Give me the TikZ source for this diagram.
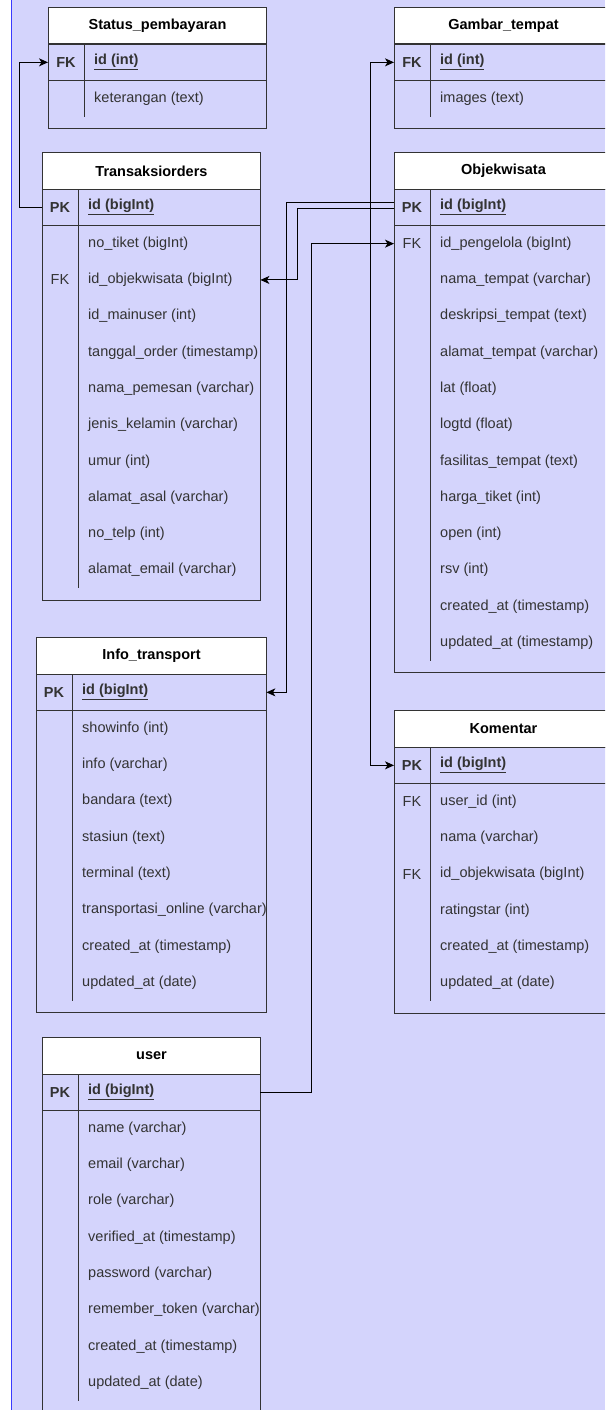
\documentclass[tikz,border=0pt]{standalone}
\usepackage{fontspec}
\setmainfont{Liberation Sans}
\usetikzlibrary{arrows.meta}

\definecolor{pagebg}{HTML}{D4D4FC}
\definecolor{pageedge}{HTML}{3A3AFF}
\definecolor{ink}{HTML}{333333}
\definecolor{rule}{HTML}{333333}

\tikzset{
  tblhead/.style={draw=rule, line width=1pt, fill=white, minimum height=37pt,
    inner sep=0pt, anchor=north west, text=black,
    font=\bfseries\fontsize{14.5}{17}\selectfont},
  tblrow/.style={minimum height=36.3pt, inner sep=0pt, anchor=north west},
  keytext/.style={inner sep=0pt, text=ink, font=\fontsize{14.5}{17}\selectfont},
  fieldtext/.style={anchor=west, inner sep=0pt, text=ink,
    font=\fontsize{14.5}{17}\selectfont},
  tblline/.style={draw=rule, line width=1pt},
  fkarrow/.style={line width=1pt, draw=black,
    -{Stealth[length=9pt,width=8pt,inset=2.5pt]}},
  fkboth/.style={line width=1pt, draw=black,
    {Stealth[length=9pt,width=8pt,inset=2.5pt]}-{Stealth[length=9pt,width=8pt,inset=2.5pt]}},
}

% \ertable{name}{left}{top}{width}{title}{number of rows}{key/field list}
\newcommand{\ertable}[7]{%
  \begin{scope}[shift={(#2,#3)}]
    \fill[pagebg] (0,37) rectangle (#4,37+36.3*#6+12);
    \node[tblhead, minimum width=#4pt] (#1) at (0,0) {#5};
    \foreach \k/\f [count=\i from 0] in {#7} {
      \node[tblrow, minimum width=#4pt] (#1-\i) at (0,37+36.3*\i) {};
      \node[keytext] at (18,37+36.3*\i+18.15) {\k};
      \node[fieldtext] at (46,37+36.3*\i+18.15) {\f};
    }
    \draw[tblline] (0,37) rectangle (#4,37+36.3*#6+12);
    \draw[tblline] (0,73.3) -- (#4,73.3);
    \draw[tblline] (36,37) -- (36,37+36.3*#6);
  \end{scope}}

\newcommand{\pkey}[1]{\textbf{\underline{#1}}}

\begin{document}
\begin{tikzpicture}[x=1pt,y=-1pt]
  \useasboundingbox (0,0) rectangle (605,1410);
  \clip (0,0) rectangle (605,1410);
  \fill[white] (0,0) rectangle (11,1410);
  \fill[pagebg] (11,0) rectangle (605,1410);
  \draw[pageedge, line width=1pt] (11,0) -- (11,1410);

  \ertable{status}{48}{7}{218}{Status\_pembayaran}{2}{%
    \textbf{FK}/\pkey{id (int)},
    {}/keterangan (text)}

  \ertable{gambar}{394}{7}{218}{Gambar\_tempat}{2}{%
    \textbf{FK}/\pkey{id (int)},
    {}/images (text)}

  \ertable{trans}{42}{152}{218}{Transaksiorders}{11}{%
    \textbf{PK}/\pkey{id (bigInt)},
    {}/no\_tiket (bigInt),
    FK/id\_objekwisata (bigInt),
    {}/id\_mainuser (int),
    {}/tanggal\_order (timestamp),
    {}/nama\_pemesan (varchar),
    {}/jenis\_kelamin (varchar),
    {}/umur (int),
    {}/alamat\_asal (varchar),
    {}/no\_telp (int),
    {}/alamat\_email (varchar)}

  \ertable{obj}{394}{152}{218}{Objekwisata}{13}{%
    \textbf{PK}/\pkey{id (bigInt)},
    FK/id\_pengelola (bigInt),
    {}/nama\_tempat (varchar),
    {}/deskripsi\_tempat (text),
    {}/alamat\_tempat (varchar),
    {}/lat (float),
    {}/logtd (float),
    {}/fasilitas\_tempat (text),
    {}/harga\_tiket (int),
    {}/open (int),
    {}/rsv (int),
    {}/created\_at (timestamp),
    {}/updated\_at (timestamp)}

  \ertable{info}{36}{637}{230}{Info\_transport}{9}{%
    \textbf{PK}/\pkey{id (bigInt)},
    {}/showinfo (int),
    {}/info (varchar),
    {}/bandara (text),
    {}/stasiun (text),
    {}/terminal (text),
    {}/transportasi\_online (varchar),
    {}/created\_at (timestamp),
    {}/updated\_at (date)}

  \ertable{koment}{394}{710}{218}{Komentar}{7}{%
    \textbf{PK}/\pkey{id (bigInt)},
    FK/user\_id (int),
    {}/nama (varchar),
    FK/id\_objekwisata (bigInt),
    {}/ratingstar (int),
    {}/created\_at (timestamp),
    {}/updated\_at (date)}

  \ertable{user}{42}{1037}{218}{user}{9}{%
    \textbf{PK}/\pkey{id (bigInt)},
    {}/name (varchar),
    {}/email (varchar),
    {}/role (varchar),
    {}/verified\_at (timestamp),
    {}/password (varchar),
    {}/remember\_token (varchar),
    {}/created\_at (timestamp),
    {}/updated\_at (date)}

  % relationships
  \draw[fkarrow] (trans-0.west) -- ++(-23,0) |- (status-0.west);
  \draw[fkarrow] ([yshift=5pt]obj-0.west) -- ++(-108,0) |- (info-0.east);
  \draw[fkarrow] ([yshift=-1pt]obj-0.west) -- ++(-97,0) |- (trans-2.east);
  \draw[fkboth] (gambar-0.west) -- ++(-24,0) |- (koment-0.west);
  \draw[fkarrow] (user-0.east) -- ++(51,0) |- (obj-1.west);
\end{tikzpicture}
\end{document}
